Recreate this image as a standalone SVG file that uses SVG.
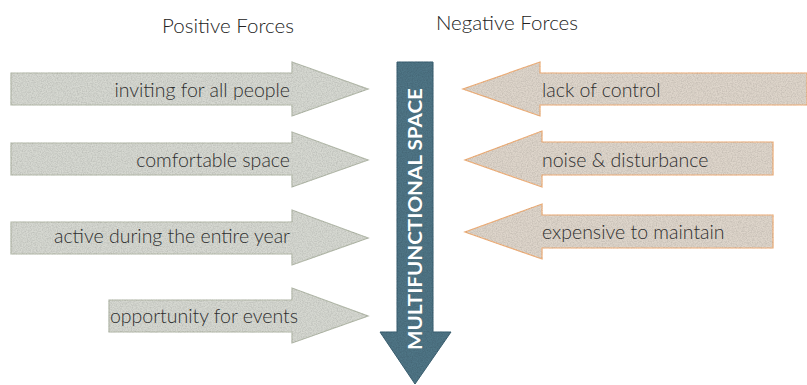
<svg xmlns="http://www.w3.org/2000/svg" width="807" height="385" viewBox="0 0 807 385">
<style>
.pos{fill:#d6d8d1;stroke:#b7bdae;stroke-width:1.2}
.neg{fill:#ded5cb;stroke:#f2b27c;stroke-width:1.2}
.core{fill:#4f7485;stroke:#3d6172;stroke-width:1}
.tx{filter:url(#tex)}
.lbl{font-family:Lato,"Open Sans",sans-serif;font-weight:300;font-size:19.5px;fill:#2e2e2e}
.hdr{font-family:Lato,"Open Sans",sans-serif;font-weight:300;font-size:20.5px;fill:#222}
.core-t{font-family:Lato,"Open Sans",sans-serif;font-weight:700;font-size:18.5px;fill:#fff}
</style>
<defs>
<filter id="tex" x="-2%" y="-2%" width="104%" height="104%">
<feTurbulence type="fractalNoise" baseFrequency="0.8" numOctaves="2" seed="3" result="n"/>
<feColorMatrix in="n" type="matrix" values="0 0 0 0 0  0 0 0 0 0  0 0 0 0 0  0 0 0 0.45 -0.15" result="g"/>
<feComposite in="g" in2="SourceGraphic" operator="in" result="gc"/>
<feMerge><feMergeNode in="SourceGraphic"/><feMergeNode in="gc"/></feMerge>
</filter>
</defs>
<g id="headers">
<text class="hdr" x="228" y="33" text-anchor="middle">Positive Forces</text>
<text class="hdr" x="507" y="30" text-anchor="middle">Negative Forces</text>
</g>
<g id="pos1">
<path class="pos tx" d="M11,73 H292 V62 L368,89 L292,116 V105 H11 Z"/>
<text class="lbl" x="290" y="97" text-anchor="end">inviting for all people</text>
</g>
<g id="pos2">
<path class="pos tx" d="M11,143 H292 V132 L368,160 L292,187 V175 H11 Z"/>
<text class="lbl" x="290" y="167" text-anchor="end">comfortable space</text>
</g>
<g id="pos3">
<path class="pos tx" d="M11,222 H292 V210 L368,238 L292,265 V254 H11 Z"/>
<text class="lbl" x="290" y="243" text-anchor="end">active during the entire year</text>
</g>
<g id="pos4">
<path class="pos tx" d="M109,300 H292 V288 L368,316 L292,343 V332 H109 Z"/>
<text class="lbl" x="298" y="323" text-anchor="end">opportunity for events</text>
</g>
<g id="neg1">
<path class="neg tx" d="M807,73 H540 V62 L463,89 L540,116 V105 H807 Z"/>
<text class="lbl" x="542" y="97">lack of control</text>
</g>
<g id="neg2">
<path class="neg tx" d="M773,142 H542 V131 L465,160 L542,187 V175 H773 Z"/>
<text class="lbl" x="542" y="167">noise &amp; disturbance</text>
</g>
<g id="neg3">
<path class="neg tx" d="M773,215 H542 V204 L465,232 L542,259 V248 H773 Z"/>
<text class="lbl" x="542" y="239">expensive to maintain</text>
</g>
<g id="core">
<path class="core tx" d="M397,62 H433 V332 H451 L415,384 L380,332 H397 Z"/>
<text class="core-t" transform="translate(422,219) rotate(-90)" text-anchor="middle" textLength="262" lengthAdjust="spacingAndGlyphs">MULTIFUNCTIONAL SPACE</text>
</g>
<g id="connectors"></g>
</svg>
